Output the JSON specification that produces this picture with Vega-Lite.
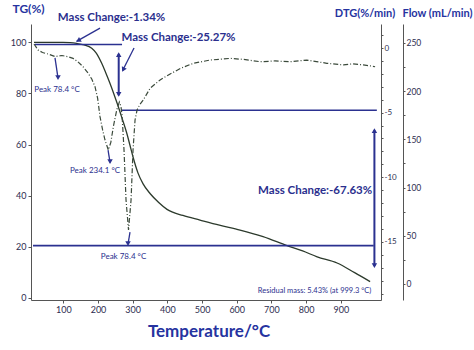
{
  "$schema": "https://vega.github.io/schema/vega-lite/v6.json",
  "width": 350,
  "height": 276,
  "autosize": {"type": "none"},
  "padding": {"left": 31, "top": 24, "right": 93, "bottom": 50},
  "background": "white",
  "config": {
    "view": {"stroke": null},
    "font": "Lato, sans-serif",
    "axis": {
      "grid": false,
      "domainColor": "#555555",
      "tickColor": "#555555",
      "labelColor": "#2d2d50",
      "labelFontSize": 9,
      "tickSize": 3,
      "labelPadding": 2,
      "titleColor": "#2633a0",
      "titleFontWeight": "bold",
      "titleFontSize": 12,
      "titleAngle": 0,
      "titleAlign": "center",
      "titleBaseline": "middle",
      "titleFont": "Lato, sans-serif"
    }
  },
  "datasets": {
    "tg": [
      {"T": 15.5, "TG": 100}, {"T": 60, "TG": 100}, {"T": 99, "TG": 100}, {"T": 120, "TG": 99.9},
      {"T": 138.6, "TG": 99.6}, {"T": 160, "TG": 99.0}, {"T": 181.9, "TG": 97.7}, {"T": 195, "TG": 95.8},
      {"T": 210.7, "TG": 91.8}, {"T": 222, "TG": 88.2}, {"T": 234.7, "TG": 83.9}, {"T": 246, "TG": 79.7},
      {"T": 258.6, "TG": 74.8}, {"T": 270, "TG": 70}, {"T": 282.8, "TG": 64.5}, {"T": 292, "TG": 59.8},
      {"T": 301, "TG": 55.1}, {"T": 315.4, "TG": 48.8}, {"T": 330, "TG": 44.6}, {"T": 350, "TG": 40.8},
      {"T": 375, "TG": 37.3}, {"T": 399, "TG": 34.6}, {"T": 445, "TG": 32.2}, {"T": 494, "TG": 30.4},
      {"T": 550, "TG": 28.4}, {"T": 609.6, "TG": 26.5}, {"T": 676, "TG": 23.9}, {"T": 745, "TG": 20.4},
      {"T": 790, "TG": 18.3}, {"T": 832, "TG": 16}, {"T": 889.4, "TG": 13.6}, {"T": 940, "TG": 9.8},
      {"T": 984.6, "TG": 6.3}
    ],
    "dtg": [
      {"T": 15.5, "DTG": 0.31}, {"T": 27, "DTG": -0.15}, {"T": 40, "DTG": -0.35}, {"T": 55.8, "DTG": -0.46},
      {"T": 76, "DTG": -0.66}, {"T": 96, "DTG": -0.58}, {"T": 113.5, "DTG": -0.67}, {"T": 128, "DTG": -0.8},
      {"T": 142, "DTG": -1.06}, {"T": 157, "DTG": -1.45}, {"T": 171, "DTG": -1.93}, {"T": 182, "DTG": -2.4},
      {"T": 191.4, "DTG": -2.99}, {"T": 199, "DTG": -3.9}, {"T": 205.8, "DTG": -5.31}, {"T": 213, "DTG": -6.3},
      {"T": 220.2, "DTG": -7.12}, {"T": 229.8, "DTG": -7.89}, {"T": 237, "DTG": -7.3}, {"T": 244.2, "DTG": -6.09},
      {"T": 254, "DTG": -4.8}, {"T": 261.5, "DTG": -4.18}, {"T": 266, "DTG": -4.5}, {"T": 269.3, "DTG": -5.18},
      {"T": 275, "DTG": -7.89}, {"T": 280.8, "DTG": -11.76}, {"T": 288, "DTG": -14.08}, {"T": 295.3, "DTG": -11.76},
      {"T": 301, "DTG": -7.89}, {"T": 306.8, "DTG": -5.57}, {"T": 312.6, "DTG": -4.8}, {"T": 320, "DTG": -4.4},
      {"T": 330.7, "DTG": -4.02}, {"T": 350, "DTG": -3.12}, {"T": 379, "DTG": -2.47}, {"T": 408, "DTG": -2.01},
      {"T": 440, "DTG": -1.55}, {"T": 475, "DTG": -1.18}, {"T": 523, "DTG": -0.93}, {"T": 581, "DTG": -0.8},
      {"T": 620, "DTG": -0.88}, {"T": 667.3, "DTG": -1.06}, {"T": 710, "DTG": -1.0}, {"T": 754, "DTG": -1.06},
      {"T": 802, "DTG": -0.93}, {"T": 830, "DTG": -1.05}, {"T": 860, "DTG": -1.18}, {"T": 907.6, "DTG": -1.31},
      {"T": 935, "DTG": -1.22}, {"T": 965, "DTG": -1.31}, {"T": 985, "DTG": -1.38}, {"T": 999, "DTG": -1.45}
    ],
    "flow": [{"T": 500, "Flow": 0}, {"T": 500, "Flow": 250}],
    "hlines": [
      {"T": 18, "T2": 269.3, "TG": 99.2, "TG2": 99.2},
      {"T": 266.4, "T2": 1004, "TG": 73.4, "TG2": 73.4},
      {"T": 12.6, "T2": 995, "TG": 20.4, "TG2": 20.4}
    ],
    "vlines": [
      {"T": 259.7, "T2": 259.7, "TG": 95.5, "TG2": 79.3},
      {"T": 997, "T2": 997, "TG": 65.5, "TG2": 12.5}
    ],
    "arrows": [
      {"T": 205.8, "T2": 138, "TG": 105.6, "TG2": 100.4},
      {"T": 303.9, "T2": 271, "TG": 97.8, "TG2": 89},
      {"T": 76, "T2": 84.7, "TG": 93.9, "TG2": 86},
      {"T": 229, "T2": 234.7, "TG": 57.8, "TG2": 53},
      {"T": 292.3, "T2": 286.5, "TG": 25.7, "TG2": 21}
    ],
    "headsUp": [{"T": 259.7, "TG": 95.2}, {"T": 997, "TG": 65.4}],
    "headsDown": [
      {"T": 259.7, "TG": 79.6}, {"T": 997, "TG": 12.6},
      {"T": 84.7, "TG": 86.2}, {"T": 234.7, "TG": 53.3}, {"T": 286.5, "TG": 21.2}
    ],
    "head1": [{"T": 143.2, "TG": 100.7}],
    "head2": [{"T": 272.7, "TG": 89.3}],
    "bigText": [
      {"T": 239, "TG": 109.5, "label": "Mass Change:-1.34%"},
      {"T": 432, "TG": 101.7, "label": "Mass Change:-25.27%"},
      {"T": 826, "TG": 41.9, "label": "Mass Change:-67.63%"}
    ],
    "peakText": [
      {"T": 81.8, "TG": 81.3, "label": "Peak 78.4 °C"},
      {"T": 191.4, "TG": 49.6, "label": "Peak 234.1 °C"},
      {"T": 273.6, "TG": 15.9, "label": "Peak 78.4 °C"}
    ],
    "resText": [{"T": 824.5, "TG": 2.6, "label": "Residual mass: 5.43% (at 999.3 °C)"}]
  },
  "encoding": {
    "x": {
      "field": "T",
      "type": "quantitative",
      "scale": {"domain": [6.8, 1016], "nice": false, "zero": false},
      "axis": {
        "values": [100, 200, 300, 400, 500, 600, 700, 800, 900],
        "title": "Temperature/°C",
        "titleX": 177.5,
        "titleY": 31,
        "titleFontSize": 17,
        "labelPadding": 2
      }
    }
  },
  "layer": [
    {
      "encoding": {
        "y": {
          "field": "TG",
          "type": "quantitative",
          "scale": {"domain": [-0.9, 107.2], "nice": false, "zero": false},
          "axis": {
            "orient": "left",
            "values": [0, 20, 40, 60, 80, 100],
            "title": "TG(%)",
            "titleX": -3,
            "titleY": -16
          }
        }
      },
      "layer": [
        {"data": {"name": "tg"}, "mark": {"type": "line", "color": "#2c3a2c", "strokeWidth": 1.3, "interpolate": "monotone"}},
        {"data": {"name": "hlines"}, "mark": {"type": "rule", "color": "#2b3190", "strokeWidth": 1.6},
         "encoding": {"x2": {"field": "T2"}, "y2": {"field": "TG2"}}},
        {"data": {"name": "vlines"}, "mark": {"type": "rule", "color": "#2b3190", "strokeWidth": 2},
         "encoding": {"x2": {"field": "T2"}, "y2": {"field": "TG2"}}},
        {"data": {"name": "arrows"}, "mark": {"type": "rule", "color": "#2b3190", "strokeWidth": 1.3},
         "encoding": {"x2": {"field": "T2"}, "y2": {"field": "TG2"}}},
        {"data": {"name": "headsUp"}, "mark": {"type": "point", "shape": "triangle-up", "filled": true, "size": 30, "color": "#2b3190", "opacity": 1}},
        {"data": {"name": "headsDown"}, "mark": {"type": "point", "shape": "triangle-down", "filled": true, "size": 30, "color": "#2b3190", "opacity": 1}},
        {"data": {"name": "head1"}, "mark": {"type": "point", "shape": "triangle-up", "angle": 240, "filled": true, "size": 30, "color": "#2b3190", "opacity": 1}},
        {"data": {"name": "head2"}, "mark": {"type": "point", "shape": "triangle-up", "angle": 207, "filled": true, "size": 30, "color": "#2b3190", "opacity": 1}},
        {"data": {"name": "bigText"}, "mark": {"type": "text", "fontSize": 11.5, "fontWeight": "bold", "color": "#2b2f8e", "align": "center", "baseline": "middle"},
         "encoding": {"text": {"field": "label"}}},
        {"data": {"name": "peakText"}, "mark": {"type": "text", "fontSize": 8, "color": "#2b2f8e", "align": "center", "baseline": "middle"},
         "encoding": {"text": {"field": "label"}}},
        {"data": {"name": "resText"}, "mark": {"type": "text", "fontSize": 7.5, "color": "#2b2f8e", "align": "center", "baseline": "middle"},
         "encoding": {"text": {"field": "label"}}}
      ]
    },
    {
      "data": {"name": "dtg"},
      "mark": {"type": "line", "color": "#3b4a3b", "strokeWidth": 1.2, "strokeDash": [5, 2, 1, 2]},
      "encoding": {
        "y": {
          "field": "DTG",
          "type": "quantitative",
          "scale": {"domain": [-19.5, 1.86], "nice": false, "zero": false},
          "axis": {
            "orient": "right",
            "values": [-19, -18, -17, -16, -15, -14, -13, -12, -11, -10, -9, -8, -7, -6, -5, -4, -3, -2, -1, 0, 1],
            "labelExpr": "datum.value % 5 == 0 ? replace(datum.label, '−', '-') : ''",
            "format": "d",
            "labelFontSize": 8,
            "labelPadding": 1,
            "tickSize": 2,
            "title": "DTG(%/min)",
            "titleFontSize": 11,
            "titleX": -16.5,
            "titleY": -11
          }
        }
      }
    },
    {
      "data": {"name": "flow"},
      "mark": {"type": "point", "opacity": 0},
      "encoding": {
        "y": {
          "field": "Flow",
          "type": "quantitative",
          "scale": {"domain": [-16.6, 269.7], "nice": false, "zero": false},
          "axis": {
            "orient": "right",
            "offset": 22,
            "values": [0, 25, 50, 75, 100, 125, 150, 175, 200, 225, 250],
            "labelExpr": "datum.value % 50 == 0 ? datum.label : ''",
            "labelFontSize": 8.5,
            "labelPadding": 1,
            "tickSize": 2,
            "title": "Flow (mL/min)",
            "titleFontSize": 11,
            "titleX": 34,
            "titleY": -11
          }
        }
      }
    }
  ],
  "resolve": {"scale": {"y": "independent"}}
}
